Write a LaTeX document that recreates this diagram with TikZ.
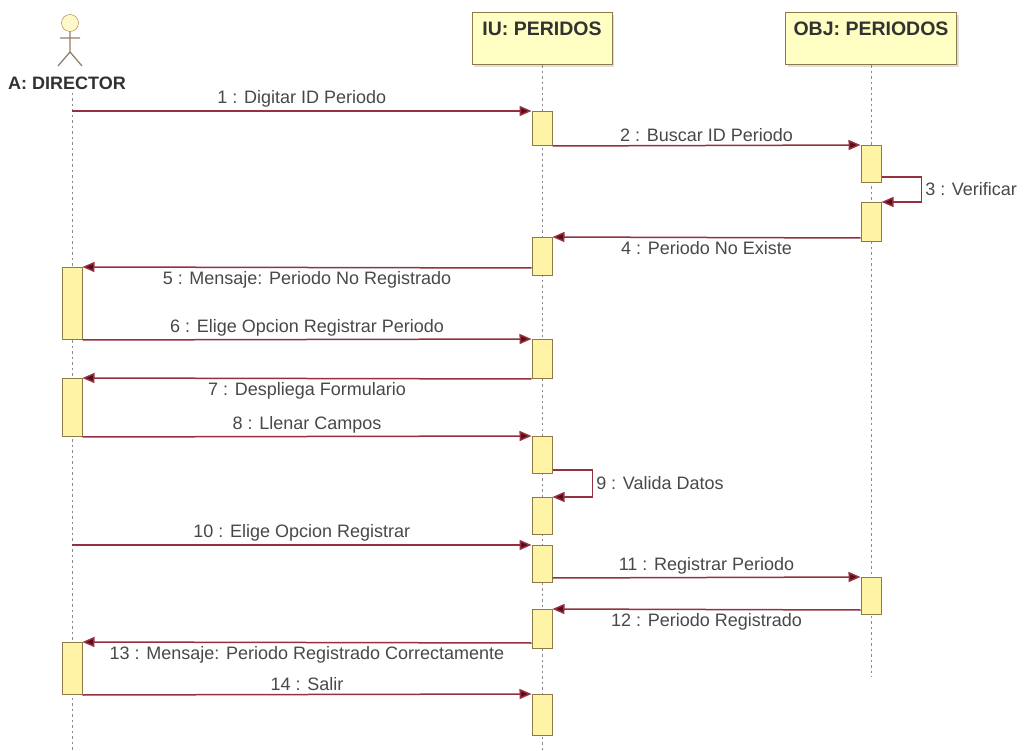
\documentclass[tikz,border=0pt]{standalone}
\usepackage{fontspec}
\setmainfont{Liberation Sans}
\usepackage{tikz}
\usetikzlibrary{arrows.meta,shadows,calc}
\definecolor{msgred}{HTML}{94303F}
\definecolor{tipred}{HTML}{5C0A18}
\definecolor{actfill}{HTML}{FFF4A6}
\definecolor{actline}{HTML}{8C7A48}
\definecolor{boxfill}{HTML}{FFFFC4}
\definecolor{txtgray}{HTML}{484848}

\begin{document}
\begin{tikzpicture}[x=1pt, y=-1pt, font=\fontsize{18}{21}\selectfont,
lifeline/.style={draw=gray!90, line width=1pt, dash pattern=on 2.5pt off 3pt},
header/.style={rectangle, draw=actline, fill=boxfill, line width=1pt, minimum height=52pt,
  inner xsep=4pt, inner ysep=9pt, text height=14pt, text depth=20pt, text=txtgray!70!black,
  font=\fontsize{19.5}{22}\selectfont\bfseries, drop shadow={opacity=0.25, shadow xshift=2pt, shadow yshift=-2pt}},
act/.style={rectangle, draw=actline, fill=actfill, line width=1pt, minimum width=20pt, inner sep=0pt, anchor=north},
msg/.style={draw=msgred, line width=1.5pt, -{Triangle[length=12pt,width=10pt,fill=tipred]}},
lbl/.style={text=txtgray, inner sep=3pt}
]
\useasboundingbox (0,0) rectangle (1026,751);

% actor
\draw[draw=actline!80!orange, fill=actfill!60] (70,23) circle (8.5pt);
\draw[draw=gray!70!brown, line width=1.3pt] (70,31.5) -- (70,52) (60,38) -- (80,38)
  (58,66) -- (70,52) -- (82,66);
\node[font=\fontsize{18}{21}\selectfont\bfseries, text=txtgray!70!black] (dir) at (67,83) {A: DIRECTOR};

\node[header, minimum width=140pt] (iu) at (542,39) {IU: PERIDOS};
\node[header, minimum width=171pt] (obj) at (871,39) {OBJ: PERIODOS};

\coordinate (dirEnd) at (72,751);
\coordinate (iuEnd) at (542,751);
\coordinate (objEnd) at (871,677);
\draw[lifeline] (dir.south -| dirEnd) -- (dirEnd);
\draw[lifeline] (iu.south) -- (iuEnd);
\draw[lifeline] (obj.south) -- (objEnd);

\coordinate (m1) at (72,111);
\coordinate (m10) at (72,545);

% activaciones
\node[act, minimum height=34pt] (u1) at (542,111) {};
\node[act, minimum height=37pt] (o1) at (871,145) {};
\node[act, minimum height=39pt] (o2) at (871,202) {};
\node[act, minimum height=38pt] (u2) at (542,237) {};
\node[act, minimum height=72pt] (d1) at (72,267) {};
\node[act, minimum height=39pt] (u3) at (542,339) {};
\node[act, minimum height=58pt] (d2) at (72,378) {};
\node[act, minimum height=37pt] (u4) at (542,436) {};
\node[act, minimum height=37pt] (u5) at (542,497) {};
\node[act, minimum height=37pt] (u6) at (542,545) {};
\node[act, minimum height=37pt] (o3) at (871,577) {};
\node[act, minimum height=39pt] (u7) at (542,609) {};
\node[act, minimum height=52pt] (d3) at (72,642) {};
\node[act, minimum height=41pt] (u8) at (542,694) {};

% mensajes
\draw[msg] (m1) -- (u1.north west) node[lbl, midway, above] {1 : Digitar ID Periodo};
\draw[msg] (u1.south east) -- (o1.north west) node[lbl, midway, above] {2 : Buscar ID Periodo};
\draw[msg] ([yshift=6pt]o1.south east) -| ([xshift=40pt]o2.north east) node[lbl, pos=0.75, right] {3 : Verificar} -- (o2.north east);
\draw[msg] ([yshift=4pt]o2.south west) -- (u2.north east) node[lbl, midway, below] {4 : Periodo No Existe};
\draw[msg] ([yshift=8pt]u2.south west) -- (d1.north east) node[lbl, midway, below] {5 : Mensaje: Periodo No Registrado};
\draw[msg] (d1.south east) -- (u3.north west) node[lbl, midway, above] {6 : Elige Opcion Registrar Periodo};
\draw[msg] (u3.south west) -- (d2.north east) node[lbl, midway, below] {7 : Despliega Formulario};
\draw[msg] (d2.south east) -- (u4.north west) node[lbl, midway, above] {8 : Llenar Campos};
\draw[msg] ([yshift=4pt]u4.south east) -| ([xshift=40pt]u5.north east) node[lbl, pos=0.75, right] {9 : Valida Datos} -- (u5.north east);
\draw[msg] (m10) -- (u6.north west) node[lbl, midway, above] {10 : Elige Opcion Registrar};
\draw[msg] ([yshift=5pt]u6.south east) -- (o3.north west) node[lbl, midway, above] {11 : Registrar Periodo};
\draw[msg] ([yshift=5pt]o3.south west) -- (u7.north east) node[lbl, midway, below] {12 : Periodo Registrado};
\draw[msg] ([yshift=6pt]u7.south west) -- (d3.north east) node[lbl, midway, below] {13 : Mensaje: Periodo Registrado Correctamente};
\draw[msg] (d3.south east) -- (u8.north west) node[lbl, midway, above] {14 : Salir};
\end{tikzpicture}
\end{document}
